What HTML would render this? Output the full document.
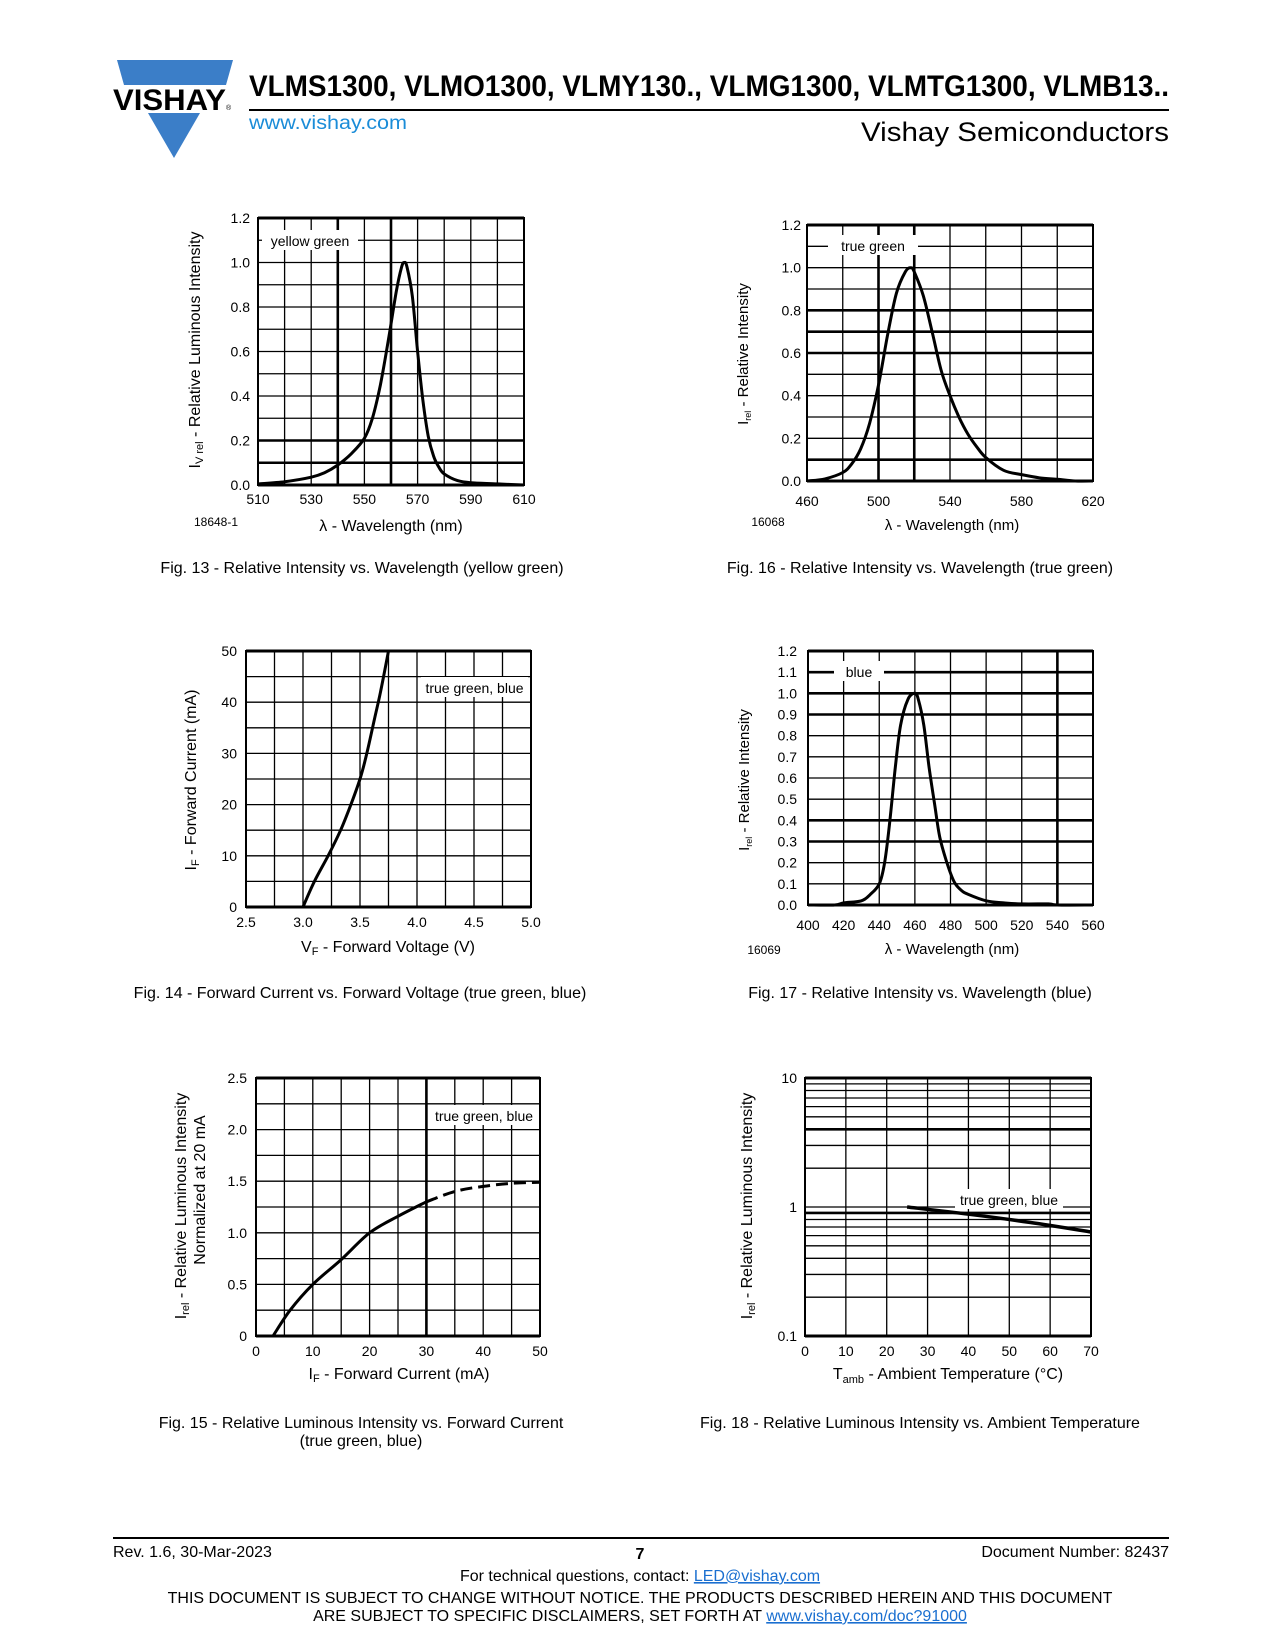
<!DOCTYPE html>
<html><head><meta charset="utf-8">
<style>
html,body{margin:0;padding:0;background:#fff;}
svg{display:block;}
text{font-family:"Liberation Sans",sans-serif;fill:#000;}
</style></head>
<body>
<svg id="s" width="1275" height="1650" viewBox="0 0 1275 1650" xmlns="http://www.w3.org/2000/svg">
<polygon points="117,60 233,60 226,85 124,85" fill="#3b7ec8"/>
<polygon points="148,113 200,113 174,158" fill="#3b7ec8"/>
<text x="113" y="110" font-size="30" font-weight="bold" textLength="113" lengthAdjust="spacingAndGlyphs">VISHAY</text>
<text x="226" y="110" font-size="7">®</text>
<text x="249" y="96" font-size="30" font-weight="bold" textLength="920" lengthAdjust="spacingAndGlyphs">VLMS1300, VLMO1300, VLMY130., VLMG1300, VLMTG1300, VLMB13..</text>
<line x1="249" y1="110" x2="1169" y2="110" stroke="#000" stroke-width="2"/>
<text x="249" y="129" font-size="19" style="fill:#1a8cd8" textLength="158" lengthAdjust="spacingAndGlyphs">www.vishay.com</text>
<text x="1169" y="141" font-size="27" text-anchor="end" textLength="308" lengthAdjust="spacingAndGlyphs">Vishay Semiconductors</text>
<g id="charts"></g>
<text x="362" y="573" font-size="16" text-anchor="middle">Fig. 13 - Relative Intensity vs. Wavelength (yellow green)</text>
<text x="920" y="573" font-size="16" text-anchor="middle">Fig. 16 - Relative Intensity vs. Wavelength (true green)</text>
<text x="360" y="998" font-size="16" text-anchor="middle">Fig. 14 - Forward Current vs. Forward Voltage (true green, blue)</text>
<text x="920" y="998" font-size="16" text-anchor="middle">Fig. 17 - Relative Intensity vs. Wavelength (blue)</text>
<text x="361" y="1428" font-size="16" text-anchor="middle">Fig. 15 - Relative Luminous Intensity vs. Forward Current</text>
<text x="361" y="1446" font-size="16" text-anchor="middle">(true green, blue)</text>
<text x="920" y="1428" font-size="16" text-anchor="middle">Fig. 18 - Relative Luminous Intensity vs. Ambient Temperature</text>
<line x1="113" y1="1538" x2="1169" y2="1538" stroke="#000" stroke-width="2"/>
<text x="113" y="1557" font-size="16">Rev. 1.6, 30-Mar-2023</text>
<text x="640" y="1559" font-size="16" font-weight="bold" text-anchor="middle">7</text>
<text x="1169" y="1557" font-size="16" text-anchor="end">Document Number: 82437</text>
<text x="640" y="1581" font-size="16" text-anchor="middle">For technical questions, contact: <tspan style="fill:#1a6fd0" text-decoration="underline">LED@vishay.com</tspan></text>
<text x="640" y="1603" font-size="16" text-anchor="middle">THIS DOCUMENT IS SUBJECT TO CHANGE WITHOUT NOTICE. THE PRODUCTS DESCRIBED HEREIN AND THIS DOCUMENT</text>
<text x="640" y="1621" font-size="16" text-anchor="middle">ARE SUBJECT TO SPECIFIC DISCLAIMERS, SET FORTH AT <tspan style="fill:#1a6fd0" text-decoration="underline">www.vishay.com/doc?91000</tspan></text>
</svg>
<script>
var NS="http://www.w3.org/2000/svg",G=document.getElementById("charts");
function el(t,a,txt){var e=document.createElementNS(NS,t);for(var k in a)e.setAttribute(k,a[k]);if(txt!==undefined)e.textContent=txt;G.appendChild(e);return e;}
function smooth(P){var d="M"+P[0][0].toFixed(1)+","+P[0][1].toFixed(1);
 for(var i=0;i<P.length-1;i++){var p0=P[i-1]||P[i],p1=P[i],p2=P[i+1],p3=P[i+2]||p2;
  var c1=[p1[0]+(p2[0]-p0[0])/6,p1[1]+(p2[1]-p0[1])/6],c2=[p2[0]-(p3[0]-p1[0])/6,p2[1]-(p3[1]-p1[1])/6];
  d+=" C"+c1[0].toFixed(1)+","+c1[1].toFixed(1)+" "+c2[0].toFixed(1)+","+c2[1].toFixed(1)+" "+p2[0].toFixed(1)+","+p2[1].toFixed(1);}
 return d;}
function chart(o){
 var L=o.L,R=o.R,T=o.T,B=o.B;
 var fy=o.log?function(v){return B-(Math.log10(v)-Math.log10(o.y0))/(Math.log10(o.y1)-Math.log10(o.y0))*(B-T);}:function(v){return B-(v-o.y0)/(o.y1-o.y0)*(B-T);};
 var fx=function(v){return L+(v-o.x0)/(o.x1-o.x0)*(R-L);};
 o.vg.forEach(function(v){var th=o.vt&&o.vt.indexOf(v)>=0;el("line",{x1:fx(v),y1:T,x2:fx(v),y2:B,stroke:"#000","stroke-width":th?2.6:1.3});});
 o.hg.forEach(function(v){var th=o.ht&&o.ht.indexOf(v)>=0;el("line",{x1:L,y1:fy(v),x2:R,y2:fy(v),stroke:"#000","stroke-width":th?2.6:1.3});});
 el("rect",{x:L,y:T,width:R-L,height:B-T,fill:"none",stroke:"#000","stroke-width":2});
 el("line",{x1:L,y1:T,x2:R,y2:T,stroke:"#000","stroke-width":3});
 el("line",{x1:L,y1:B,x2:R,y2:B,stroke:"#000","stroke-width":3});
 if(o.leg){var lg=o.leg;el("rect",{x:lg[0],y:lg[1]-11,width:lg[2],height:20,fill:"#fff"});el("text",{x:lg[0]+lg[2]/2,y:lg[1]+5,"font-size":14,"text-anchor":"middle"},lg[3]);}
 o.xl.forEach(function(v){el("text",{x:fx(v[0]),y:o.xly,"font-size":14,"text-anchor":"middle"},v[1]);});
 o.yl.forEach(function(v){el("text",{x:o.ylx,y:fy(v[0])+5,"font-size":14,"text-anchor":"end"},v[1]);});
 o.curves.forEach(function(c){var P=c.p.map(function(p){return[fx(p[0]),fy(p[1])];});
  var a={d:smooth(P),fill:"none",stroke:"#000","stroke-width":c.w||3,"stroke-linejoin":"round"};if(c.dash)a["stroke-dasharray"]=c.dash;el("path",a);});
}
function rng(a,b,s){var r=[];for(var v=a;v<=b+1e-9;v+=s)r.push(Math.round(v*1000)/1000);return r;}
function ytitle(x,y,t,fs){var e=el("text",{x:0,y:0,"font-size":fs||16,"text-anchor":"middle",transform:"translate("+x+","+y+") rotate(-90)"});e.innerHTML=t;}
function plain(x,y,t,fs,anc){var e=el("text",{x:x,y:y,"font-size":fs||16,"text-anchor":anc||"middle"});e.innerHTML=t;}

chart({L:258,R:524,T:218,B:485,x0:510,x1:610,y0:0,y1:1.2,vg:rng(510,610,10),vt:[540,560],hg:rng(0,1.2,0.1),ht:[0.1,0.2],
 leg:[262,241,96,"yellow green"],xl:[[510,"510"],[530,"530"],[550,"550"],[570,"570"],[590,"590"],[610,"610"]],xly:504,
 yl:[[0,"0.0"],[0.2,"0.2"],[0.4,"0.4"],[0.6,"0.6"],[0.8,"0.8"],[1.0,"1.0"],[1.2,"1.2"]],ylx:250,
 curves:[{p:[[510,.005],[520,.015],[530,.035],[535,.055],[540,.09],[545,.14],[550,.21],[553,.3],[556,.45],[559,.65],[562,.87],[564,.98],[565,1],[566,.98],[568,.85],[570,.6],[572,.38],[574,.22],[576,.13],[578,.08],[580,.05],[585,.02],[590,.01],[600,.005],[610,0]]}]});
plain(216,526,"18648-1",12);
plain(391,531,"λ - Wavelength (nm)",16);
ytitle(200,350,"I<tspan font-size='11' dy='3'>V rel</tspan><tspan dy='-3'> - Relative Luminous Intensity</tspan>",16);

chart({L:807,R:1093,T:225,B:481,x0:460,x1:620,y0:0,y1:1.2,vg:rng(460,620,20),vt:[500,520],hg:rng(0,1.2,0.1),ht:[0.1,0.6,0.7,0.8],
 leg:[828,246,90,"true green"],xl:[[460,"460"],[500,"500"],[540,"540"],[580,"580"],[620,"620"]],xly:506,
 yl:[[0,"0.0"],[0.2,"0.2"],[0.4,"0.4"],[0.6,"0.6"],[0.8,"0.8"],[1.0,"1.0"],[1.2,"1.2"]],ylx:801,
 curves:[{p:[[460,0],[470,.01],[480,.04],[485,.08],[490,.15],[495,.27],[500,.45],[505,.68],[510,.88],[515,.98],[518,1],[520,.98],[525,.87],[530,.7],[535,.52],[540,.4],[545,.3],[550,.22],[555,.16],[560,.11],[570,.05],[580,.03],[590,.015],[600,.008],[610,0],[620,0]]}]});
plain(768,526,"16068",12);
plain(952,530,"λ - Wavelength (nm)",15);
ytitle(748,354,"I<tspan font-size='9' dy='3'>rel</tspan><tspan dy='-3'> - Relative Intensity</tspan>",15);

chart({L:246,R:531,T:651,B:907,x0:2.5,x1:5,y0:0,y1:50,vg:rng(2.5,5,0.25),hg:rng(0,50,5),
 leg:[421,688,107,"true green, blue"],xl:[[2.5,"2.5"],[3,"3.0"],[3.5,"3.5"],[4,"4.0"],[4.5,"4.5"],[5,"5.0"]],xly:927,
 yl:[[0,"0"],[10,"10"],[20,"20"],[30,"30"],[40,"40"],[50,"50"]],ylx:237,
 curves:[{p:[[3.0,0],[3.1,5],[3.22,10],[3.33,15],[3.42,20],[3.5,25],[3.56,30],[3.63,37],[3.68,42],[3.75,50]]}]});
plain(388,952,"V<tspan font-size='11' dy='3'>F</tspan><tspan dy='-3'> - Forward Voltage (V)</tspan>",16);
ytitle(196,780,"I<tspan font-size='11' dy='3'>F</tspan><tspan dy='-3'> - Forward Current (mA)</tspan>",16);

chart({L:808,R:1093,T:651,B:905,x0:400,x1:560,y0:0,y1:1.2,vg:rng(400,560,20),vt:[540],hg:rng(0,1.2,0.1),ht:[0,0.3,0.4,0.9,1.0,1.1,1.2],
 leg:[834,672,50,"blue"],xl:rng(400,560,20).map(function(v){return[v,""+v];}),xly:930,
 yl:rng(0,1.2,0.1).map(function(v){return[v,v.toFixed(1)];}),ylx:797,
 curves:[{p:[[400,0],[415,0],[420,.01],[430,.02],[435,.05],[440,.1],[443,.2],[446,.4],[449,.65],[452,.85],[456,.97],[460,1],[462,.97],[465,.85],[468,.65],[471,.48],[474,.32],[478,.2],[482,.11],[486,.07],[490,.05],[500,.02],[510,.01],[520,.005],[535,.005],[540,0],[560,0]]}]});
plain(764,954,"16069",12);
plain(952,954,"λ - Wavelength (nm)",15);
ytitle(749,780,"I<tspan font-size='9' dy='3'>rel</tspan><tspan dy='-3'> - Relative Intensity</tspan>",15);

chart({L:256,R:540,T:1078,B:1336,x0:0,x1:50,y0:0,y1:2.5,vg:rng(0,50,5),vt:[30],hg:rng(0,2.5,0.25),
 leg:[430,1116,108,"true green, blue"],xl:[[0,"0"],[10,"10"],[20,"20"],[30,"30"],[40,"40"],[50,"50"]],xly:1356,
 yl:[[0,"0"],[0.5,"0.5"],[1,"1.0"],[1.5,"1.5"],[2,"2.0"],[2.5,"2.5"]],ylx:247,
 curves:[{p:[[3,0],[6,.25],[10,.5],[15,.74],[20,1.0],[25,1.16],[30,1.3]]},{p:[[30,1.3],[35,1.4],[40,1.45],[45,1.48],[50,1.49]],dash:"12,6"}]});
plain(399,1379,"I<tspan font-size='11' dy='3'>F</tspan><tspan dy='-3'> - Forward Current (mA)</tspan>",16);
ytitle(186,1206,"I<tspan font-size='11' dy='3'>rel</tspan><tspan dy='-3'> - Relative Luminous Intensity</tspan>",16);
ytitle(205,1190,"Normalized at 20 mA",16);

var lg=[];[0.1,1].forEach(function(d){for(var k=1;k<10;k++)lg.push(d*k);});lg.push(10);
chart({L:805,R:1091,T:1078,B:1336,log:true,x0:0,x1:70,y0:0.1,y1:10,vg:rng(0,70,10),hg:lg,ht:[4,0.9,0.7],
 leg:[955,1200,108,"true green, blue"],xl:rng(0,70,10).map(function(v){return[v,""+v];}),xly:1356,
 yl:[[0.1,"0.1"],[1,"1"],[10,"10"]],ylx:797,
 curves:[{p:[[25,1.0],[40,0.88],[55,0.76],[70,0.64]],w:3.5}]});
plain(948,1379,"T<tspan font-size='11' dy='4'>amb</tspan><tspan dy='-4'> - Ambient Temperature (°C)</tspan>",16);
ytitle(752,1206,"I<tspan font-size='11' dy='3'>rel</tspan><tspan dy='-3'> - Relative Luminous Intensity</tspan>",16);
</script>
</body></html>
